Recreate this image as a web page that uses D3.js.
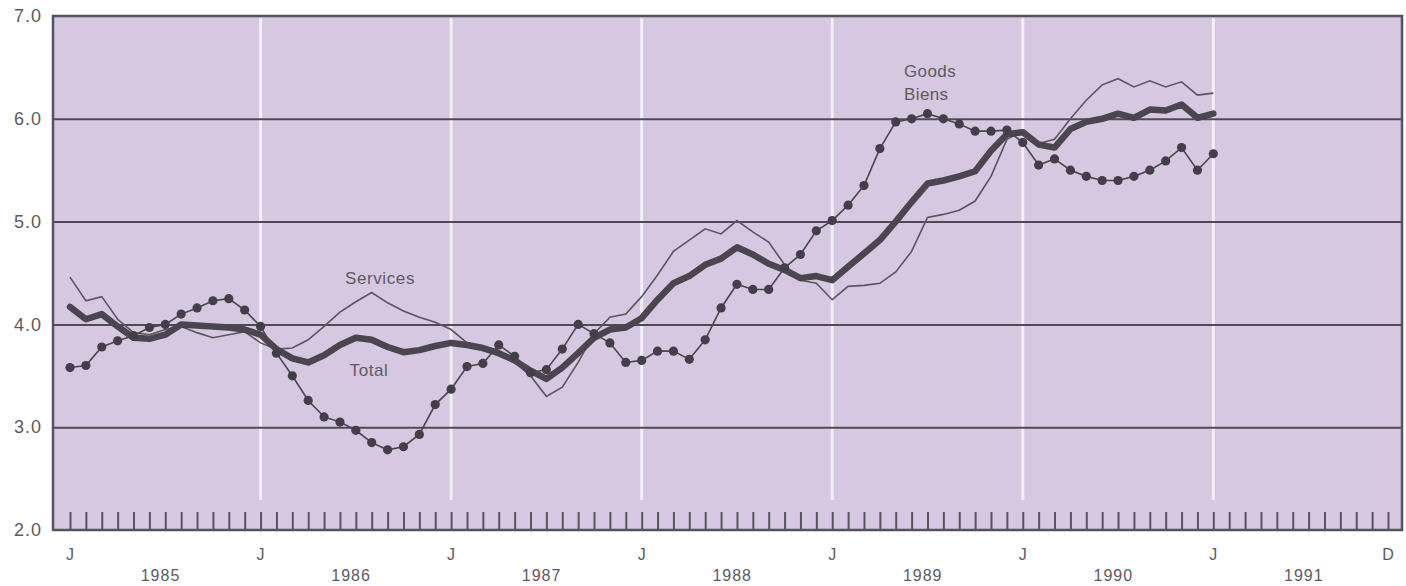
<!DOCTYPE html>
<html>
<head>
<meta charset="utf-8">
<script src="https://cdn.jsdelivr.net/npm/d3@7"></script>
<style>
  html, body { margin: 0; padding: 0; background: #ffffff; }
  svg { display: block; }
  text { font-family: "Liberation Sans", Arial, Helvetica, sans-serif; }
</style>
</head>
<body>
<svg id="chart" width="1406" height="586"></svg>
<script>
// ---- Data (monthly, Jan 1985 .. Jan 1991) ----
const goods = [3.58,3.60,3.78,3.84,3.89,3.97,4.00,4.10,4.16,4.23,4.25,4.14,
  3.98,3.72,3.50,3.26,3.10,3.05,2.97,2.85,2.78,2.81,2.93,3.22,
  3.37,3.59,3.62,3.80,3.69,3.53,3.56,3.76,4.00,3.91,3.82,3.63,
  3.65,3.74,3.74,3.66,3.85,4.16,4.39,4.34,4.34,4.55,4.68,4.91,
  5.01,5.16,5.35,5.71,5.97,6.00,6.05,6.00,5.95,5.88,5.88,5.89,
  5.77,5.55,5.61,5.50,5.44,5.40,5.40,5.44,5.50,5.59,5.72,5.50,5.66];
const services = [4.46,4.23,4.27,4.05,3.92,3.90,3.95,3.98,3.92,3.87,3.90,3.93,
  3.82,3.76,3.77,3.85,3.98,4.12,4.22,4.31,4.21,4.13,4.07,4.02,
  3.95,3.82,3.75,3.70,3.63,3.50,3.30,3.39,3.63,3.91,4.07,4.10,
  4.27,4.48,4.71,4.82,4.93,4.88,5.01,4.90,4.80,4.58,4.43,4.40,
  4.24,4.37,4.38,4.40,4.51,4.71,5.04,5.07,5.11,5.20,5.44,5.80,
  5.88,5.76,5.80,6.00,6.18,6.33,6.39,6.31,6.37,6.31,6.36,6.23,6.25];
const total = [4.17,4.05,4.10,3.98,3.87,3.86,3.90,4.00,3.99,3.98,3.97,3.95,
  3.90,3.76,3.67,3.63,3.70,3.80,3.87,3.85,3.78,3.73,3.75,3.79,
  3.82,3.80,3.77,3.72,3.65,3.55,3.47,3.58,3.72,3.87,3.95,3.97,
  4.06,4.24,4.40,4.47,4.58,4.64,4.75,4.68,4.59,4.53,4.45,4.47,
  4.43,4.56,4.69,4.82,5.00,5.19,5.37,5.40,5.44,5.49,5.69,5.85,
  5.87,5.75,5.72,5.90,5.97,6.00,6.05,6.01,6.09,6.08,6.14,6.01,6.05];

const yTicks = [2, 3, 4, 5, 6, 7];
const monthLabelPos = [0, 12, 24, 36, 48, 60, 72, 83];
const monthLabels = ["J", "J", "J", "J", "J", "J", "J", "D"];
const years = ["1985", "1986", "1987", "1988", "1989", "1990", "1991"];
const seriesLabels = { services: "Services", total: "Total", goods: ["Goods", "Biens"] };

// ---- Layout ----
const svg = d3.select("#chart");
const frame = { left: 53, right: 1402, top: 16, bottom: 530 };
const x = d3.scaleLinear().domain([0, 83]).range([70, 1388]);
const y = d3.scaleLinear().domain([2, 7]).range([frame.bottom, frame.top]);

const bg = "#d5c8e0";
const textCol = "#5e5a62";

svg.append("rect")
  .attr("x", frame.left).attr("y", frame.top)
  .attr("width", frame.right - frame.left).attr("height", frame.bottom - frame.top)
  .attr("fill", bg);

// white vertical January lines
const janMonths = d3.range(12, 73, 12);
svg.append("g").selectAll("line").data(janMonths).join("line")
  .attr("x1", d => x(d)).attr("x2", d => x(d))
  .attr("y1", frame.top + 2).attr("y2", 500)
  .attr("stroke", "#f3eef7").attr("stroke-width", 3);

// horizontal gridlines + y labels via axis
const yAxis = d3.axisLeft(y).tickValues(yTicks).tickFormat(d3.format(".1f"))
  .tickSize(-(frame.right - frame.left)).tickPadding(11);
const gy = svg.append("g").attr("transform", `translate(${frame.left},0)`).call(yAxis);
gy.select(".domain").remove();
gy.selectAll(".tick line")
  .attr("stroke", "#4f4b55").attr("stroke-width", 2)
  .attr("display", d => (d === 2 || d === 7) ? "none" : null);
gy.selectAll(".tick text")
  .attr("fill", textCol).attr("font-size", 18).style("letter-spacing", "1px");

// monthly ticks along bottom (pointing up)
const xAxis = d3.axisBottom(x).tickValues(d3.range(0, 84)).tickSize(-18).tickFormat("");
const gx = svg.append("g").attr("transform", `translate(0,${frame.bottom})`).call(xAxis);
gx.select(".domain").remove();
gx.selectAll(".tick line").attr("stroke", "#58535e").attr("stroke-width", 2);

// frame border
svg.append("rect")
  .attr("x", frame.left).attr("y", frame.top)
  .attr("width", frame.right - frame.left).attr("height", frame.bottom - frame.top)
  .attr("fill", "none").attr("stroke", "#56525a").attr("stroke-width", 2.5);

// month letters and years
svg.append("g").selectAll("text").data(monthLabelPos).join("text")
  .attr("x", d => x(d)).attr("y", 560)
  .attr("text-anchor", "middle").attr("font-size", 16).attr("fill", textCol)
  .text((d, i) => monthLabels[i]);
svg.append("g").selectAll("text").data(years).join("text")
  .attr("x", (d, i) => x(5.7 + 12 * i)).attr("y", 581)
  .attr("text-anchor", "middle").attr("font-size", 16).attr("fill", textCol)
  .style("letter-spacing", "1px")
  .text(d => d);

// ---- Lines ----
const line = d3.line().x((d, i) => x(i)).y(d => y(d));

svg.append("path").datum(services).attr("d", line)
  .attr("fill", "none").attr("stroke", "#5a5560").attr("stroke-width", 1.6)
  .attr("stroke-linejoin", "miter");

svg.append("path").datum(goods).attr("d", line)
  .attr("fill", "none").attr("stroke", "#4a4550").attr("stroke-width", 1.6);

svg.append("path").datum(total).attr("d", line)
  .attr("fill", "none").attr("stroke", "#4b4550").attr("stroke-width", 6.5)
  .attr("stroke-linejoin", "round").attr("stroke-linecap", "round");

svg.append("g").selectAll("circle").data(goods).join("circle")
  .attr("cx", (d, i) => x(i)).attr("cy", d => y(d)).attr("r", 4.6)
  .attr("fill", "#433e49");

// ---- Series labels ----
svg.append("text").attr("x", 380).attr("y", 284).attr("text-anchor", "middle")
  .attr("font-size", 17).attr("fill", textCol).style("letter-spacing", "0.6px")
  .text(seriesLabels.services);
svg.append("text").attr("x", 369).attr("y", 376).attr("text-anchor", "middle")
  .attr("font-size", 17).attr("fill", textCol).style("letter-spacing", "0.6px")
  .text(seriesLabels.total);
svg.append("text").attr("x", 904).attr("y", 77).attr("text-anchor", "start")
  .attr("font-size", 17).attr("fill", textCol).style("letter-spacing", "0.4px")
  .text(seriesLabels.goods[0]);
svg.append("text").attr("x", 904).attr("y", 100).attr("text-anchor", "start")
  .attr("font-size", 17).attr("fill", textCol).style("letter-spacing", "0.4px")
  .text(seriesLabels.goods[1]);
</script>
</body>
</html>
